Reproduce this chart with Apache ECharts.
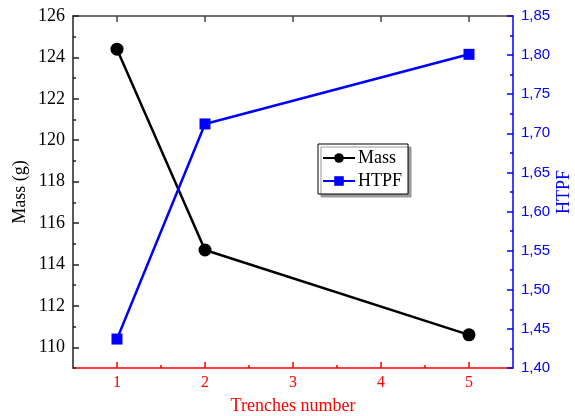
<!DOCTYPE html>
<html><head><meta charset="utf-8">
<script src="https://cdn.jsdelivr.net/npm/echarts@6/dist/echarts.min.js"></script>
<style>html,body{margin:0;padding:0;background:#fff}#c{width:575px;height:416px}</style>
</head><body><div id="c"></div>
<script>
const trenches = [1, 2, 5];
const massValues = [124.4, 114.7, 110.6];
const htpfValues = [1.437, 1.712, 1.801];
const xTicks = [1, 2, 3, 4, 5];
const xMinorTicks = [1.5, 2.5, 3.5, 4.5];
const massTicks = [110, 112, 114, 116, 118, 120, 122, 124, 126];
const massMinorTicks = [109, 111, 113, 115, 117, 119, 121, 123, 125];
const htpfTicks = [1.40, 1.45, 1.50, 1.55, 1.60, 1.65, 1.70, 1.75, 1.80, 1.85];
const htpfMinorTicks = [1.425, 1.475, 1.525, 1.575, 1.625, 1.675, 1.725, 1.775, 1.825];

const serif = '"Liberation Serif","DejaVu Serif",serif';
const sans = '"Liberation Sans",Arial,sans-serif';
const RED = '#ff0000', BLUE = '#0000ff', BLACK = '#000000';

const chart = echarts.init(document.getElementById('c'));
const xRange = {min: 0.5, max: 5.5};
const yL = {min: 109, max: 126};
const yR = {min: 1.40, max: 1.85};
chart.setOption({
  animation: false,
  grid: {left: 73, right: 62, top: 16, bottom: 48, containLabel: false, outerBoundsMode: 'none'},
  legend: {
    orient: 'vertical', left: 318, top: 144,
    data: ['Mass', 'HTPF'],
    itemWidth: 32, itemHeight: 12, itemGap: 5,
    padding: [5, 6, 4, 4],
    backgroundColor: '#fff', borderColor: '#000', borderWidth: 1,
    shadowColor: '#999', shadowOffsetX: 3, shadowOffsetY: 3, shadowBlur: 0,
    textStyle: {fontFamily: serif, fontSize: 18, color: '#000', padding: [0, 0, 0, -2]}
  },
  xAxis: [
    {type: 'value', position: 'bottom', ...xRange,
     name: 'Trenches number', nameLocation: 'middle', nameGap: 29, nameMoveOverlap: false,
     nameTextStyle: {fontFamily: serif, fontSize: 18, color: RED},
     axisLine: {show: true, lineStyle: {color: RED, width: 1.5}},
     axisTick: {show: true, inside: true, length: 6, customValues: xTicks, lineStyle: {color: RED, width: 1.5}},
     axisLabel: {customValues: xTicks, color: RED, fontFamily: serif, fontSize: 16, margin: 7},
     splitLine: {show: false}},
    {type: 'value', position: 'bottom', ...xRange,
     axisLine: {show: false},
     axisTick: {show: true, inside: true, length: 3, customValues: xMinorTicks, lineStyle: {color: RED, width: 1.5}},
     axisLabel: {show: false}, splitLine: {show: false}},
    {type: 'value', position: 'top', ...xRange,
     axisLine: {show: true, lineStyle: {color: '#444', width: 1.5}},
     axisTick: {show: true, inside: true, length: 6, customValues: xTicks, lineStyle: {color: '#444', width: 1.5}},
     axisLabel: {show: false}, splitLine: {show: false}}
  ],
  yAxis: [
    {type: 'value', position: 'left', ...yL,
     name: 'Mass (g)', nameLocation: 'middle', nameGap: 44, nameRotate: 90, nameMoveOverlap: false,
     nameTextStyle: {fontFamily: serif, fontSize: 18, color: BLACK},
     axisLine: {show: true, lineStyle: {color: '#222', width: 1.5}},
     axisTick: {show: true, inside: true, length: 6, customValues: massTicks, lineStyle: {color: '#222', width: 1.5}},
     axisLabel: {customValues: massTicks, color: BLACK, fontFamily: serif, fontSize: 18, margin: 8},
     splitLine: {show: false}},
    {type: 'value', position: 'right', ...yR,
     name: 'HTPF', nameLocation: 'middle', nameGap: 42, nameRotate: 90, nameMoveOverlap: false,
     nameTextStyle: {fontFamily: serif, fontSize: 18, color: BLUE},
     axisLine: {show: true, lineStyle: {color: BLUE, width: 1.5}},
     axisTick: {show: true, inside: true, length: 6, customValues: htpfTicks, lineStyle: {color: BLUE, width: 1.5}},
     axisLabel: {customValues: htpfTicks, color: BLUE, fontFamily: sans, fontSize: 15, margin: 8,
       formatter: v => v.toFixed(2).replace('.', ',')},
     splitLine: {show: false}},
    {type: 'value', position: 'left', ...yL,
     axisLine: {show: false},
     axisTick: {show: true, inside: true, length: 3, customValues: massMinorTicks, lineStyle: {color: '#222', width: 1.5}},
     axisLabel: {show: false}, splitLine: {show: false}},
    {type: 'value', position: 'right', ...yR,
     axisLine: {show: false},
     axisTick: {show: true, inside: true, length: 3, customValues: htpfMinorTicks, lineStyle: {color: BLUE, width: 1.5}},
     axisLabel: {show: false}, splitLine: {show: false}}
  ],
  series: [
    {name: 'Mass', type: 'line', xAxisIndex: 0, yAxisIndex: 0,
     data: trenches.map((t, i) => [t, massValues[i]]),
     symbol: 'circle', symbolSize: 13,
     lineStyle: {color: BLACK, width: 2.5}, itemStyle: {color: BLACK}},
    {name: 'HTPF', type: 'line', xAxisIndex: 0, yAxisIndex: 1,
     data: trenches.map((t, i) => [t, htpfValues[i]]),
     symbol: 'rect', symbolSize: 11,
     lineStyle: {color: BLUE, width: 2.5}, itemStyle: {color: BLUE}}
  ]
});
</script></body></html>
